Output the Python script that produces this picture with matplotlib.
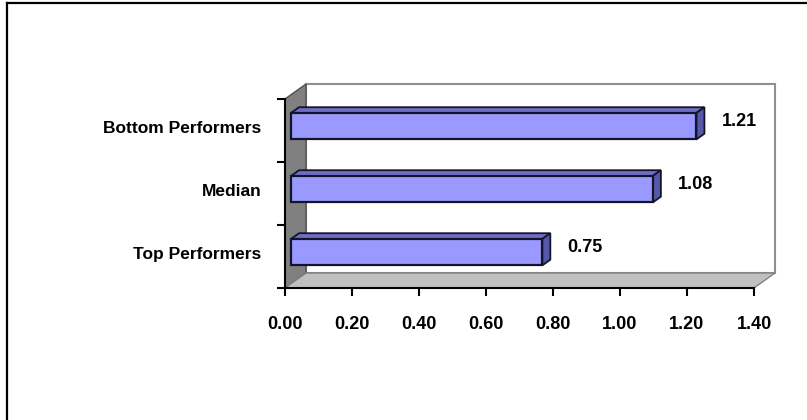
import matplotlib
matplotlib.use("Agg")
import matplotlib.pyplot as plt
from matplotlib.patches import Polygon
from matplotlib.lines import Line2D

# Chart data
categories = ["Top Performers", "Median", "Bottom Performers"]
values = [0.75, 1.08, 1.21]
x_ticks = [0.0, 0.2, 0.4, 0.6, 0.8, 1.0, 1.2, 1.4]
x_labels = ["0.00", "0.20", "0.40", "0.60", "0.80", "1.00", "1.20", "1.40"]

plt.rcParams["font.family"] = ["Liberation Sans", "DejaVu Sans"]
plt.rcParams["font.weight"] = "bold"

W, H = 807, 420
fig = plt.figure(figsize=(W / 100, H / 100), dpi=100)

# front plane of the 3D box
left_px, right_px, top_px, bottom_px = 285, 754, 99, 288
ax = fig.add_axes([left_px / W, 1 - bottom_px / H,
                   (right_px - left_px) / W, (bottom_px - top_px) / H])
xmax = x_ticks[-1]
n = len(categories)
ax.set_xlim(0, xmax)
ax.set_ylim(0, n)

# pixel -> data conversion for the depth offsets
px_x = (right_px - left_px) / xmax
px_y = (bottom_px - top_px) / n


def off(px, py):
    return px / px_x, py / px_y


# box depth
dx, dy = off(21, 15)

back = Polygon([(dx, dy), (dx, n + dy), (xmax + dx, n + dy), (xmax + dx, dy)],
               closed=True, fc="white", ec="#909090", lw=1.5, clip_on=False, zorder=0)
side = Polygon([(0, 0), (0, n), (dx, n + dy), (dx, dy)],
               closed=True, fc="#808080", ec="#505050", lw=1, clip_on=False, zorder=1)
floor = Polygon([(0, 0), (xmax, 0), (xmax + dx, dy), (dx, dy)],
                closed=True, fc="#c0c0c0", ec="#808080", lw=1, clip_on=False, zorder=1)
for p in (back, side, floor):
    ax.add_patch(p)

# 3D bars
f0, f1 = 0.29, 0.67
fx, fy = off(21 * f0, 15 * f0)
bx, by = off(21 * f1, 15 * f1)
h = 0.42
edge = "#141428"
for i, v in enumerate(values):
    c = i + 0.5
    y0, y1 = c - h / 2, c + h / 2
    ax.add_patch(Polygon([(fx, y1 + fy), (fx + v, y1 + fy), (bx + v, y1 + by), (bx, y1 + by)],
                         closed=True, fc="#6e6ec4", ec=edge, lw=1.3, clip_on=False, zorder=3))
    ax.add_patch(Polygon([(fx + v, y0 + fy), (fx + v, y1 + fy), (bx + v, y1 + by), (bx + v, y0 + by)],
                         closed=True, fc="#5858aa", ec=edge, lw=1.3, clip_on=False, zorder=3))
    ax.annotate(f"{v:.2f}", xy=(bx + v, c + fy), xytext=(17, 5), textcoords="offset pixels",
                ha="left", va="center", fontsize=13, fontweight="bold")

ax.barh([i + 0.5 + fy for i in range(n)], values, height=h, left=fx,
        color="#9999ff", edgecolor=edge, linewidth=1.6, zorder=4, clip_on=False)

# axes styling
for s in ("top", "right"):
    ax.spines[s].set_visible(False)
for s in ("left", "bottom"):
    ax.spines[s].set_color("black")
    ax.spines[s].set_linewidth(1.5)
    ax.spines[s].set_zorder(5)
ax.patch.set_visible(False)

ax.set_xticks(x_ticks)
ax.set_xticklabels(x_labels, fontsize=13, fontweight="bold")
ax.tick_params(axis="x", direction="out", length=6, width=1.5, pad=14)

ax.set_yticks(range(n + 1))
ax.set_yticklabels([])
ax.tick_params(axis="y", which="major", direction="out", length=6, width=1.5)
ax.set_yticks([i + 0.5 + 0.7 * fy for i in range(n)], minor=True)
ax.set_yticklabels(categories, minor=True, fontsize=12.5, fontweight="bold")
ax.tick_params(axis="y", which="minor", length=0, pad=17)

# chart area border (left and top edges)
fig.add_artist(Line2D([7 / W, 7 / W], [0, 1 - 3 / H], color="black", lw=1.6))
fig.add_artist(Line2D([7 / W, 1], [1 - 3 / H, 1 - 3 / H], color="black", lw=1.6))

fig.savefig("out.png", dpi=100)
